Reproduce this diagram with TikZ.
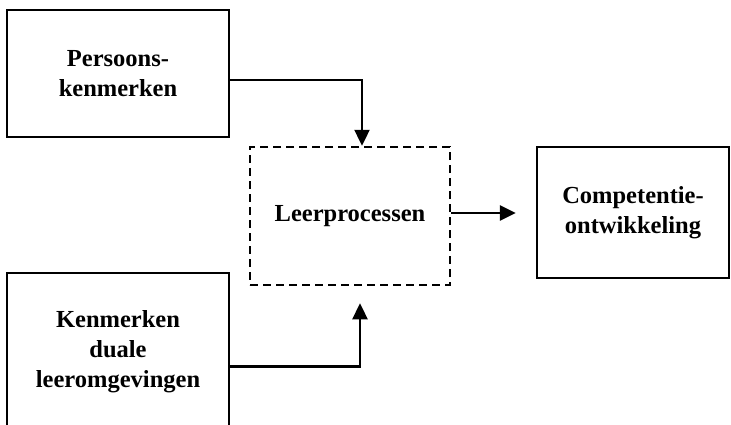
\documentclass[tikz,border=0pt]{standalone}
\usepackage{fontspec}
\setmainfont{Liberation Serif}
\usetikzlibrary{arrows.meta}
\begin{document}
\begin{tikzpicture}[x=1pt,y=-1pt,
  box/.style={draw, line width=2.8pt, align=center, inner sep=0pt,
    font=\fontsize{24.5}{30}\selectfont\bfseries},
  dbox/.style={draw, line width=2.5pt, dash pattern=on 8pt off 5pt, align=center,
    inner sep=0pt, font=\fontsize{24.5}{30}\selectfont\bfseries},
  conn/.style={line width=2.4pt, -{Triangle[length=16pt,width=15pt]}}]
\clip (0,0) rectangle (731,424);
\node[box, minimum width=222pt, minimum height=127pt] (b1) at (118,73.5) {Persoons-\\kenmerken};
\node[box, minimum width=222pt, minimum height=157pt] (b2) at (118,351.5) {Kenmerken\\duale\\leeromgevingen};
\node[dbox, minimum width=200pt, minimum height=138pt] (lp) at (350,216) {Leerprocessen};
\node[box, line width=2.3pt, minimum width=192pt, minimum height=131pt] (b3) at (633,212.5) {Competentie-\\ontwikkeling};
\coordinate (lpout) at ([yshift=3pt]lp.east);
\draw[conn] ([yshift=-6.5pt]b1.east) -| ([xshift=12pt]lp.north);
\draw[conn, shorten >=17pt] ([yshift=-15pt]b2.east) -| ([xshift=10pt]lp.south);
\draw[conn, shorten >=20pt] (lpout) -- (b3.west |- lpout);
\end{tikzpicture}
\end{document}
